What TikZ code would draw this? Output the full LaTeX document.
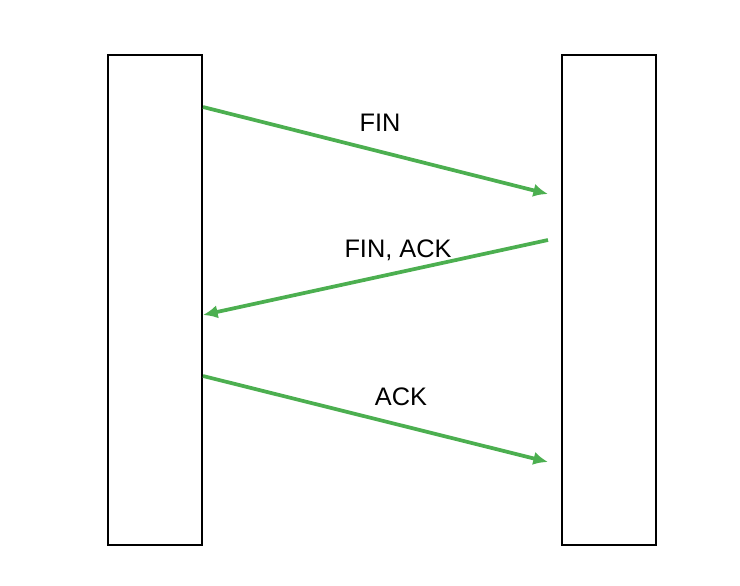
\documentclass[tikz,border=0pt]{standalone}
\usepackage{fontspec}
\setmainfont{Liberation Sans}
\usetikzlibrary{arrows.meta, calc}
\definecolor{msggreen}{RGB}{76, 175, 80}
\tikzstyle{host} = [rectangle, draw=black, line width=1.5pt, minimum width=70.5pt, minimum height=367.5pt, inner sep=0pt]
\tikzstyle{msg} = [draw=msggreen, -{Latex[length=11pt, width=10pt]}, line width=2.8pt]
\tikzstyle{lbl} = [font=\fontsize{19}{23}\selectfont, inner sep=0pt]

\begin{document}
\begin{tikzpicture}[x=0.75pt, y=-0.75pt]
        \useasboundingbox (0,0) rectangle (740,586);
        % Hosts
        \node [host] (client) at (155,300) {};
        \node [host] (server) at (609,300) {};

        % Message ends
        \coordinate (fin1) at ($(client.north east)+(0,53)$);
        \coordinate (fin2) at ($(server.north west)+(-13,140)$);
        \coordinate (finack1) at ($(server.north west)+(-13,186)$);
        \coordinate (finack2) at ($(client.north east)+(0,261)$);
        \coordinate (ack1) at ($(client.north east)+(0,322)$);
        \coordinate (ack2) at ($(server.north west)+(-13,408)$);

        % Messages
        \path [msg] (fin1) -- (fin2);
        \path [msg] (finack1) -- (finack2);
        \path [msg] (ack1) -- (ack2);

        % Labels
        \node [lbl] (finlbl) at (380,123) {FIN};
        \node [lbl] (finacklbl) at (398,250) {FIN, ACK};
        \node [lbl] (acklbl) at (401,397) {ACK};
    \end{tikzpicture}
\end{document}
